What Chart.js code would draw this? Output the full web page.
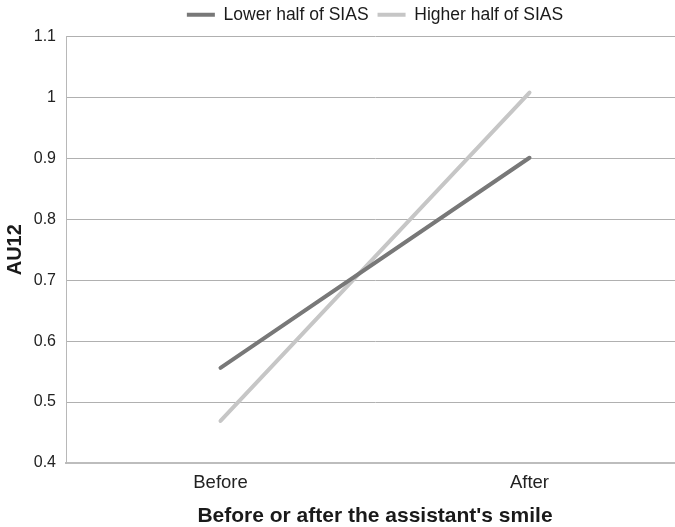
<!DOCTYPE html>
<html>
<head>
<meta charset="utf-8">
<script src="https://cdn.jsdelivr.net/npm/chart.js@4"></script>
<style>
  html, body { margin: 0; padding: 0; background: #fff; overflow: hidden; }
  #wrap { width: 684px; height: 527px; }
</style>
</head>
<body>
<div id="wrap"><canvas id="grafico"></canvas></div>
<script>
// datos
const categorias = ['Before', 'After'];
const mitadInferior = [0.556, 0.901];
const mitadSuperior = [0.469, 1.008];
const yMin = 0.4, yMax = 1.1, yPaso = 0.1;

Chart.defaults.font.family = '"Liberation Sans", Arial, sans-serif';
Chart.defaults.color = '#222222';

// centra la leyenda sobre el area del grafico, como en el original
const moverLeyenda = {
    id: 'moverLeyenda',
    afterLayout(chart) {
        chart.legend.left = chart.chartArea.left;
        chart.legend.top -= 3;
    }
};

const ctx = document.getElementById('grafico').getContext('2d');
new Chart(ctx, {
    type: 'line',
    data: {
        labels: categorias,
        datasets: [{
            label: 'Lower half of SIAS',
            data: mitadInferior,
            borderColor: '#787878',
            backgroundColor: '#787878',
            borderWidth: 4,
            borderCapStyle: 'round',
            pointRadius: 0,
            tension: 0
        }, {
            label: 'Higher half of SIAS',
            data: mitadSuperior,
            borderColor: '#c6c6c6',
            backgroundColor: '#c6c6c6',
            borderWidth: 4,
            borderCapStyle: 'round',
            pointRadius: 0,
            tension: 0
        }]
    },
    plugins: [moverLeyenda],
    options: {
        responsive: true,
        maintainAspectRatio: false,
        animation: false,
        layout: { padding: 0 },
        plugins: {
            tooltip: { enabled: false },
            legend: {
                display: true,
                position: 'top',
                labels: {
                    usePointStyle: true,
                    pointStyle: 'line',
                    pointStyleWidth: 28,
                    padding: 9,
                    font: { size: 17.5 },
                    color: '#1a1a1a'
                }
            }
        },
        scales: {
            x: {
                offset: true,
                grid: { display: false, drawTicks: false },
                border: { color: '#bdbdbd', width: 2 },
                ticks: { padding: 9, font: { size: 18.5 } },
                title: {
                    display: true,
                    text: "Before or after the assistant's smile",
                    font: { size: 21, weight: 'bold', lineHeight: 1 },
                    color: '#1a1a1a',
                    padding: { top: 0, bottom: 0 }
                },
                afterFit: function(scale) { scale.height = 64; }
            },
            y: {
                min: yMin,
                max: yMax,
                grid: { color: '#b0b0b0', lineWidth: 1, drawTicks: false },
                border: { color: '#b8b8b8', width: 1 },
                ticks: {
                    stepSize: yPaso,
                    padding: 10,
                    font: { size: 16 },
                    callback: function(v) { return Math.round(v * 10) / 10; }
                },
                title: {
                    display: true,
                    text: 'AU12',
                    font: { size: 20, weight: 'bold' },
                    color: '#1a1a1a',
                    padding: { top: 3, bottom: 0 }
                },
                afterFit: function(scale) { scale.width = 66; }
            }
        }
    }
});
</script>
</body>
</html>
